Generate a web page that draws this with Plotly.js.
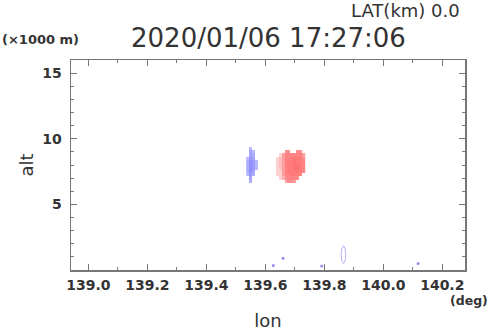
<!DOCTYPE html>
<html>
<head>
<meta charset="utf-8">
<script src="https://cdn.plot.ly/plotly-3.0.1.min.js"></script>
<style>html,body{margin:0;padding:0;background:#fff;}#chart{width:490px;height:331px;}</style>
</head>
<body>
<div id="chart"></div>
<script>
// Grid cell centres (longitude, deg) and (altitude, x1000 m)
const lonCells = [139.54,139.55,139.56,139.57,139.58,139.59,139.60,139.61,139.62,139.63,139.64,139.65,139.66,139.67,139.68,139.69,139.70,139.71,139.72,139.73];
const altCells = [6.75,7.0,7.25,7.5,7.75,8.0,8.25,8.5,8.75,9.0,9.25];
const N = null;
// Doppler-like values (negative = blue, positive = red)
const echoValues = [
  [N,-5,N,N, N,N,N,N,N,N, N,N,N,6,7,7,6,N,N,N],
  [N,-6,N,N, N,N,N,N,N,N, N,3,5,7,8,8,8,7,N,N],
  [-4,-7,-5,N, N,N,N,N,N,N, 3,3,6,8,8,9,9,9,8,N],
  [-5,-8,-6,N, N,N,N,N,N,N, 3,3,6,8,9,9,9,9,9,8],
  [-5,-8,-7,-4, N,N,N,N,N,N, 3,4,6,8,9,9,10,10,9,8],
  [-5,-8,-7,-4, N,N,N,N,N,N, 3,4,6,8,9,9,10,10,9,8],
  [-5,-8,-7,-4, N,N,N,N,N,N, 3,4,6,8,9,9,10,9,9,8],
  [-4,-7,-6,N, N,N,N,N,N,N, 3,4,6,8,8,9,9,9,9,7],
  [N,-6,-5,N, N,N,N,N,N,N, N,3,6,8,8,8,8,8,8,6],
  [N,-6,-4,N, N,N,N,N,N,N, N,N,N,7,7,N,N,7,7,N],
  [N,-4,N,N, N,N,N,N,N,N, N,N,N,N,N,N,N,N,N,N]
];
// Small low-level echoes
const dotLon = [139.627, 139.660, 139.791, 140.118];
const dotAlt = [0.35, 0.90, 0.30, 0.50];
const ringLon = [139.865,139.871,139.873,139.871,139.865,139.859,139.857,139.859,139.865];
const ringAlt = [1.85,1.60,1.15,0.75,0.50,0.75,1.15,1.60,1.85];
// Axis ticks
const lonTicks = [139.0,139.2,139.4,139.6,139.8,140.0,140.2];
const altTicks = [5,10,15];

const traces = [
  {type:'heatmap', x: lonCells, y: altCells, z: echoValues,
   zmin:-10, zmax:10, showscale:false, hoverinfo:'skip',
   colorscale:[[0,'#7c7cff'],[0.3,'#b8b8ff'],[0.5,'#ffffff'],[0.65,'#ffd0d0'],[0.85,'#ff8c8c'],[1,'#ff7272']]},
  {type:'scatter', mode:'markers', x: dotLon, y: dotAlt, hoverinfo:'skip',
   marker:{size:3, color:'#9a8cf0'}},
  {type:'scatter', mode:'lines', x: ringLon, y: ringAlt, hoverinfo:'skip',
   line:{color:'#b4b4ff', width:1}}
];

const axisCommon = {
  showgrid:false, zeroline:false, showline:true, linecolor:'#777', linewidth:1.5,
  mirror:'allticks', ticks:'inside', tickcolor:'#777', tickwidth:1,
  tickfont:{family:'DejaVu Sans', size:14, color:'#333', weight:'bold'}
};

const layout = {
  width:490, height:331,
  margin:{l:71, r:25, t:60, b:61},
  paper_bgcolor:'#fff', plot_bgcolor:'#fff',
  showlegend:false,
  xaxis: Object.assign({}, axisCommon, {
    range:[138.941, 140.277], tickvals: lonTicks, tickformat:'.1f', ticklen:6,
    minor:{dtick:0.1, tick0:139.0, ticks:'inside', ticklen:3, tickcolor:'#777'},
    ticklabelstandoff:2,
    title:{text:'lon', font:{family:'DejaVu Sans', size:18, color:'#333'}, standoff:29}
  }),
  yaxis: Object.assign({}, axisCommon, {
    range:[0,16], tickvals: altTicks, ticklen:6,
    minor:{dtick:1, tick0:0, ticks:'inside', ticklen:3, tickcolor:'#777'},
    ticklabelstandoff:5,
    title:{text:'alt', font:{family:'DejaVu Sans', size:18, color:'#333'}, standoff:4}
  }),
  annotations:[
    {text:'2020/01/06 17:27:06', xref:'paper', yref:'paper', x:0.5, y:(270-38)/210,
     xanchor:'center', yanchor:'middle', showarrow:false,
     font:{family:'DejaVu Sans', size:26, color:'#333'}},
    {text:'LAT(km) 0.0', xref:'paper', yref:'paper', x:(462-71)/394, y:(270-11)/210,
     xanchor:'right', yanchor:'middle', showarrow:false,
     font:{family:'DejaVu Sans', size:18, color:'#333'}},
    {text:'(×1000 m)', xref:'paper', yref:'paper', x:(0-71)/394, y:(270-40)/210,
     xanchor:'left', yanchor:'middle', showarrow:false,
     font:{family:'DejaVu Sans', size:13, color:'#333', weight:'bold'}},
    {text:'(deg)', xref:'paper', yref:'paper', x:(490-71)/394, y:(270-300)/210,
     xanchor:'right', yanchor:'middle', showarrow:false,
     font:{family:'DejaVu Sans', size:12.5, color:'#333', weight:'bold'}}
  ]
};

Plotly.newPlot('chart', traces, layout, {staticPlot:true, displayModeBar:false});
</script>
</body>
</html>
